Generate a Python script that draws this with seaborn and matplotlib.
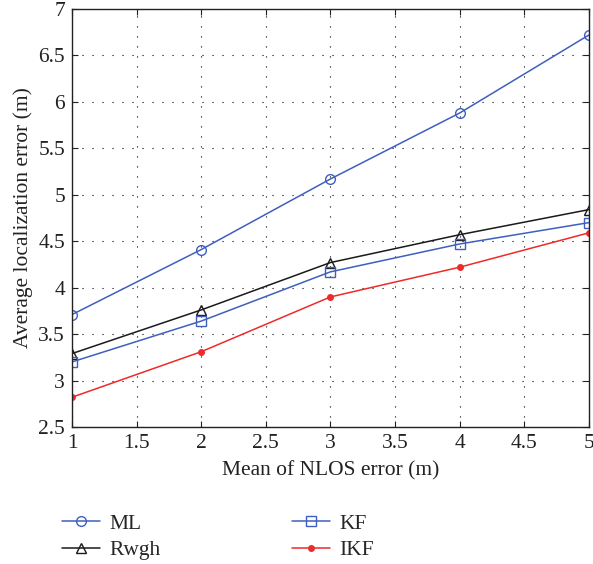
import matplotlib
matplotlib.use("Agg")
import matplotlib.pyplot as plt
import seaborn as sns
import pandas as pd

nlos_mean = [1, 2, 3, 4, 5]
err_ml = [3.71, 4.41, 5.17, 5.88, 6.72]
err_rwgh = [3.29, 3.76, 4.27, 4.57, 4.84]
err_kf = [3.20, 3.64, 4.17, 4.47, 4.70]
err_ikf = [2.82, 3.31, 3.90, 4.22, 4.59]

sns.set_theme(style="white")
plt.rcParams["font.family"] = ["Liberation Serif", "DejaVu Serif"]

fig = plt.figure(figsize=(5.93, 5.64), dpi=100)
ax = fig.add_axes([0.1214, 0.243, 0.8716, 0.741])

series = [
    ("ML", err_ml, "#3f5fbf", "o", 7, "none"),
    ("Rwgh", err_rwgh, "#1a1a1a", "^", 7, "none"),
    ("KF", err_kf, "#3f5fbf", "s", 7, "none"),
    ("IKF", err_ikf, "#ee2a2a", "o", 4, None),
]
handles = {}
for name, vals, color, marker, ms, mfc in series:
    df = pd.DataFrame({"x": nlos_mean, "y": vals})
    sns.lineplot(data=df, x="x", y="y", ax=ax, color=color, marker=marker,
                 markersize=ms, markerfacecolor=(color if mfc is None else mfc),
                 markeredgecolor=color, markeredgewidth=1.0, linewidth=1.1,
                 label=name, legend=False)
    handles[name] = ax.lines[-1]

ax.set_xlim(1, 5)
ax.set_ylim(2.5, 7)
ax.set_xticks([1, 1.5, 2, 2.5, 3, 3.5, 4, 4.5, 5])
ax.set_xticklabels(["1", "1.5", "2", "2.5", "3", "3.5", "4", "4.5", "5"])
ax.set_yticks([2.5, 3, 3.5, 4, 4.5, 5, 5.5, 6, 6.5, 7])
ax.set_yticklabels(["2.5", "3", "3.5", "4", "4.5", "5", "5.5", "6", "6.5", "7"])
ax.grid(True, color="black", linestyle=(0, (1, 8)), linewidth=0.8)
ax.tick_params(direction="in", length=4, width=0.8, labelsize=15.5, colors="#222222",
               top=True, right=True, bottom=True, left=True, pad=5)
for s in ax.spines.values():
    s.set_color("#222222")
    s.set_linewidth(1.0)
ax.set_xlabel("Mean of NLOS error (m)", fontsize=15.5, color="#222222", labelpad=6)
ax.set_ylabel("Average localization error (m)", fontsize=15.5, color="#222222", labelpad=4)

order = ["ML", "Rwgh", "KF", "IKF"]
fig.legend([handles[n] for n in order], order, loc="upper left",
           bbox_to_anchor=(0.072, 0.124), ncol=2, frameon=False, fontsize=15.5,
           handlelength=1.75, columnspacing=6.1, labelspacing=0.3, handletextpad=0.45)

fig.savefig("out.png", dpi=100)
